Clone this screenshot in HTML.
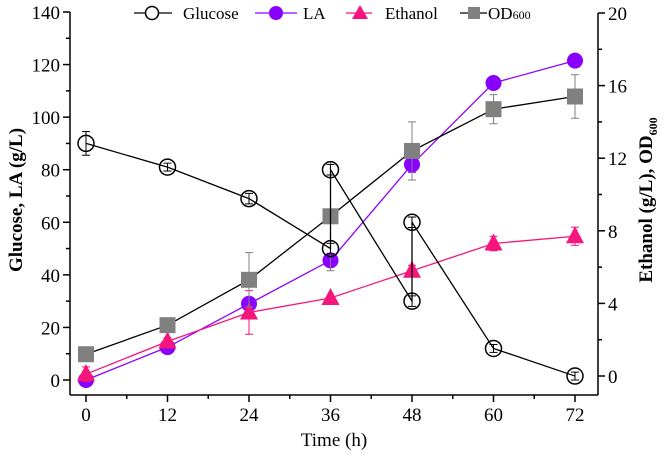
<!DOCTYPE html>
<html><head><meta charset="utf-8"><style>
html,body{margin:0;padding:0;background:#fff;}
svg, svg text{font-family:"Liberation Serif","Times New Roman",serif;}
</style></head><body>
<svg id="chart" width="666" height="456" viewBox="0 0 666 456" font-family="Liberation Serif, serif">
<g id="axes"></g>
<g id="series"></g>
<g id="legend"></g>
<text x="22" y="200" transform="rotate(-90 22 200)" text-anchor="middle" font-size="19" font-weight="bold" font-family="Liberation Serif, serif">Glucose, LA (g/L)</text>
<text x="652" y="200" transform="rotate(-90 652 200)" text-anchor="middle" font-size="19" font-weight="bold" font-family="Liberation Serif, serif">Ethanol (g/L), OD<tspan font-size="12" dy="5">600</tspan></text>
<text x="334" y="446" text-anchor="middle" font-size="19" font-family="Liberation Serif, serif">Time (h)</text>
</svg>
<script>
const times=[0,12,24,36,48,60,72];
const glucoseT=[0,12,24,36,36,48,48,60,72];
const glucose=[90,81,69,50,80,30,60,12,1.5];
const glucoseErr=[4.5,1.5,2,2,2,2,2,1.5,1.5];
const la=[0,12.5,29,45.5,82,113,121.5];
const laErr=[0.5,0.5,1,1,3,1,2];
const ethanol=[0.1,1.9,3.5,4.3,5.8,7.3,7.7];
const ethanolErr=[0.4,0.2,1.2,0.1,0.3,0.4,0.5];
const od=[1.2,2.8,5.3,8.8,12.4,14.7,15.4];
const odErr=[0.1,0.4,1.5,3,1.6,0.8,1.2];
const xTicks=[0,12,24,36,48,60,72];
const leftTicks=[0,20,40,60,80,100,120,140];
const rightTicks=[0,4,8,12,16,20];

const NS="http://www.w3.org/2000/svg";
const X0=70,X1=598,YB=395;
const FF="Liberation Serif, serif";
const xS=t=>86+t*(575-86)/72;
const yL=v=>380-v*(380-12)/140;
const yR=v=>376-v*(376-13)/20;
function mk(tag,attrs,parent){const e=document.createElementNS(NS,tag);for(const k in attrs)e.setAttribute(k,attrs[k]);parent.appendChild(e);return e;}
const axes=document.getElementById('axes');
const ser=document.getElementById('series');
const leg=document.getElementById('legend');

let a=mk('line',{x1:X0,y1:12,x2:X0,y2:YB,stroke:'#000','stroke-width':1.5},axes);


a=mk('line',{x1:X1,y1:13,x2:X1,y2:YB,stroke:'#000','stroke-width':1.5},axes);


a=mk('line',{x1:X0,y1:YB,x2:X1,y2:YB,stroke:'#000','stroke-width':1.5},axes);



xTicks.forEach((t,i)=>{
  mk('line',{x1:xS(t),y1:YB,x2:xS(t),y2:YB+7,stroke:'#000','stroke-width':1.5},axes);
  if(i<xTicks.length-1) mk('line',{x1:xS(t+6),y1:YB,x2:xS(t+6),y2:YB+4,stroke:'#000','stroke-width':1.5},axes);
  const tx=mk('text',{x:xS(t),y:YB+26,'text-anchor':'middle','font-size':19,'font-family':FF},axes);
  tx.textContent=t;
  
  
});
leftTicks.forEach((v,i)=>{
  mk('line',{x1:X0-7,y1:yL(v),x2:X0,y2:yL(v),stroke:'#000','stroke-width':1.5},axes);
  if(i<leftTicks.length-1) mk('line',{x1:X0-4,y1:yL(v+10),x2:X0,y2:yL(v+10),stroke:'#000','stroke-width':1.5},axes);
  const tx=mk('text',{x:X0-10,y:yL(v)+7,'text-anchor':'end','font-size':19,'font-family':FF},axes);
  tx.textContent=v;
  
  
});
rightTicks.forEach((v,i)=>{
  mk('line',{x1:X1,y1:yR(v),x2:X1+7,y2:yR(v),stroke:'#000','stroke-width':1.5},axes);
  if(i<rightTicks.length-1) mk('line',{x1:X1,y1:yR(v+2),x2:X1+4,y2:yR(v+2),stroke:'#000','stroke-width':1.5},axes);
  const tx=mk('text',{x:X1+10,y:yR(v)+7,'text-anchor':'start','font-size':19,'font-family':FF},axes);
  tx.textContent=v;
  
  
});

function errbar(x,y1,y2,col,g){
  mk('line',{x1:x,y1:y1,x2:x,y2:y2,stroke:col,'stroke-width':1},g);
  mk('line',{x1:x-4,y1:y1,x2:x+4,y2:y1,stroke:col,'stroke-width':1},g);
  mk('line',{x1:x-4,y1:y2,x2:x+4,y2:y2,stroke:col,'stroke-width':1},g);
}
function series(name,ts,vals,errs,ys,col,lineCol,errCol,shape){
  const g=mk('g',{},ser);
  
  
  const pts=ts.map((t,i)=>xS(t)+','+ys(vals[i])).join(' ');
  mk('polyline',{points:pts,fill:'none',stroke:lineCol,'stroke-width':1.3},g);
  ts.forEach((t,i)=>errbar(xS(t),ys(vals[i]-errs[i]),ys(vals[i]+errs[i]),errCol,g));
  ts.forEach((t,i)=>{
    const x=xS(t),y=ys(vals[i]);let m;
    if(shape==='ocircle') m=mk('circle',{cx:x,cy:y,r:8,fill:'none',stroke:'#000','stroke-width':1.5},g);
    else if(shape==='circle') m=mk('circle',{cx:x,cy:y,r:8,fill:col},g);
    else if(shape==='tri') m=mk('polygon',{points:`${x},${y-10} ${x-9},${y+7} ${x+9},${y+7}`,fill:col},g);
    else m=mk('rect',{x:x-8,y:y-8,width:16,height:16,fill:col},g);
    
    
  });
}
series('la',times,la,laErr,yL,'#8a00ff','#8a00ff','#8a00ff','circle');
series('ethanol',times,ethanol,ethanolErr,yR,'#f5157c','#f5157c','#f5157c','tri');
series('od600',times,od,odErr,yR,'#808080','#000','#808080','square');
series('glucose',glucoseT,glucose,glucoseErr,yL,'#000','#000','#000','ocircle');

function legItem(name,x1,x2,cx,tx,label,col,lineCol,shape,sub){
  const g=mk('g',{},leg);
  
  
  const y=13;
  mk('line',{x1:x1,y1:y,x2:x2,y2:y,stroke:lineCol,'stroke-width':1.3},g);
  if(shape==='ocircle') mk('circle',{cx:cx,cy:y,r:6.5,fill:'#fff',stroke:'#000','stroke-width':1.5},g);
  else if(shape==='circle') mk('circle',{cx:cx,cy:y,r:7,fill:col},g);
  else if(shape==='tri') mk('polygon',{points:`${cx},${y-8} ${cx-8},${y+6} ${cx+8},${y+6}`,fill:col},g);
  else mk('rect',{x:cx-6,y:y-6,width:12,height:12,fill:col},g);
  const t=mk('text',{x:tx,y:y+6,'font-size':17,'font-family':FF},g);
  t.textContent=label;
  if(sub){const s=mk('tspan',{'font-size':12},t);s.textContent=sub;}
}
legItem('glucose',134,172,152,183,'Glucose','#000','#000','ocircle');
legItem('la',255,297,276,303,'LA','#8a00ff','#8a00ff','circle');
legItem('ethanol',346,372,360,385,'Ethanol','#f5157c','#f5157c','tri');
legItem('od600',460,487,474,488,'OD','#808080','#000','square','600');
</script>
</body></html>
